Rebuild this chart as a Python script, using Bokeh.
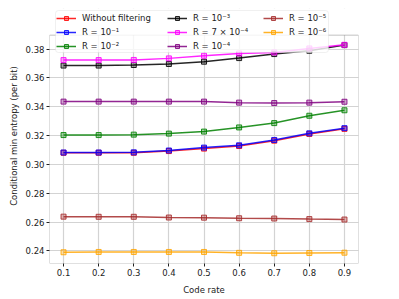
from bokeh.plotting import figure
from bokeh.models import Legend, LegendItem, FixedTicker, NumeralTickFormatter, Range1d, BoxAnnotation
from bokeh.embed import file_html
from bokeh.resources import INLINE

code_rate = [0.1, 0.2, 0.3, 0.4, 0.5, 0.6, 0.7, 0.8, 0.9]
y_ticks = [0.24, 0.26, 0.28, 0.30, 0.32, 0.34, 0.36, 0.38]

labels = ["Without filtering", "R = 10⁻¹", "R = 10⁻²", "R = 10⁻³",
          "R = 7 × 10⁻⁴", "R = 10⁻⁴", "R = 10⁻⁵", "R = 10⁻⁶"]
colors = ["red", "blue", "green", "black", "magenta", "purple", "brown", "orange"]

no_filter = [0.3081, 0.3081, 0.3081, 0.3093, 0.3110, 0.3128, 0.3165, 0.3212, 0.3247]
r_1e1 = [0.3083, 0.3083, 0.3084, 0.3097, 0.3117, 0.3133, 0.3170, 0.3216, 0.3252]
r_1e2 = [0.3204, 0.3204, 0.3207, 0.3214, 0.3228, 0.3257, 0.3287, 0.3338, 0.3376]
r_1e3 = [0.3686, 0.3686, 0.3690, 0.3697, 0.3713, 0.3738, 0.3766, 0.3789, 0.3828]
r_7e4 = [0.3724, 0.3724, 0.3725, 0.3736, 0.3754, 0.3770, 0.3777, 0.3805, 0.3830]
r_1e4 = [0.3436, 0.3436, 0.3436, 0.3436, 0.3436, 0.3429, 0.3426, 0.3429, 0.3435]
r_1e5 = [0.2638, 0.2637, 0.2637, 0.2632, 0.2631, 0.2627, 0.2625, 0.2621, 0.2618]
r_1e6 = [0.2391, 0.2393, 0.2393, 0.2393, 0.2393, 0.2387, 0.2384, 0.2386, 0.2388]

series = [no_filter, r_1e1, r_1e2, r_1e3, r_7e4, r_1e4, r_1e5, r_1e6]

X_LO, X_HI = 0.06, 0.94
Y_LO, Y_HI = 0.2313, 0.3897
Y_TOP = 0.4082  # extra room above the axes box for the legend

FONT = "DejaVu Sans"
FS = "8.5px"

p = figure(width=395, height=297, output_backend="svg", toolbar_location=None,
           x_range=Range1d(X_LO, X_HI), y_range=Range1d(Y_LO, Y_TOP),
           min_border_left=49, min_border_right=37, min_border_top=8, min_border_bottom=31)

# white cover above the axes box (hides grid lines there)
p.add_layout(BoxAnnotation(bottom=Y_HI, fill_color="white", fill_alpha=1.0,
                           line_alpha=0, level="underlay"))

items = []
for lab, col, ys in zip(labels, colors, series):
    l = p.line(code_rate, ys, line_color=col, line_width=1.5, line_alpha=0.85)
    s = p.scatter(code_rate, ys, marker="square", size=5, line_color=col, line_width=1,
                  line_alpha=0.85, fill_color=col, fill_alpha=0.35)
    items.append(LegendItem(label=lab, renderers=[l, s]))

# axes box outline
p.add_layout(BoxAnnotation(left=X_LO, right=X_HI, bottom=Y_LO, top=Y_HI,
                           fill_alpha=0, line_color="#333333", line_width=1))

# legend frame (semi-transparent white box)
p.add_layout(BoxAnnotation(left=55, right=328, top=10, bottom=52,
                           left_units="canvas", right_units="canvas",
                           top_units="canvas", bottom_units="canvas",
                           fill_color="white", fill_alpha=0.8,
                           line_color="#cccccc", line_width=1, border_radius=3))

def make_legend(its, loc):
    return Legend(items=its, location=loc,
                  label_text_font=FONT, label_text_font_size=FS, label_text_color="#222222",
                  label_height=10, glyph_height=10, glyph_width=20, label_standoff=6,
                  spacing=4, padding=0, margin=0,
                  border_line_color=None, background_fill_alpha=0)

p.add_layout(make_legend(items[0:3], (7, 212)), "center")
p.add_layout(make_legend(items[3:6], (118, 212)), "center")
p.add_layout(make_legend(items[6:8], (214, 226)), "center")

for ax in (p.xaxis[0], p.yaxis[0]):
    ax.axis_line_color = None
    ax.major_tick_out = 3
    ax.major_tick_in = 0
    ax.minor_tick_line_color = None
    ax.major_tick_line_color = "#222222"
    ax.major_label_text_font = FONT
    ax.major_label_text_font_size = FS
    ax.major_label_text_color = "#222222"
    ax.axis_label_text_font = FONT
    ax.axis_label_text_font_size = FS
    ax.axis_label_text_font_style = "normal"
    ax.axis_label_text_color = "#222222"
    ax.major_label_standoff = 2

p.xaxis.axis_label_standoff = 6
p.yaxis.axis_label_standoff = 4
p.xaxis.ticker = FixedTicker(ticks=code_rate)
p.xaxis.formatter = NumeralTickFormatter(format="0.0")
p.yaxis.ticker = FixedTicker(ticks=y_ticks)
p.yaxis.formatter = NumeralTickFormatter(format="0.00")
p.xaxis.axis_label = "Code rate"
p.yaxis.axis_label = "Conditional min entropy (per bit)"

p.xgrid.grid_line_color = "#d3d3d3"
p.ygrid.grid_line_color = "#d3d3d3"
p.xgrid.grid_line_width = 1.2
p.ygrid.grid_line_width = 1.2
p.outline_line_color = None
p.background_fill_color = "white"
p.border_fill_color = "white"

open("out.html", "w").write(file_html(p, INLINE))
